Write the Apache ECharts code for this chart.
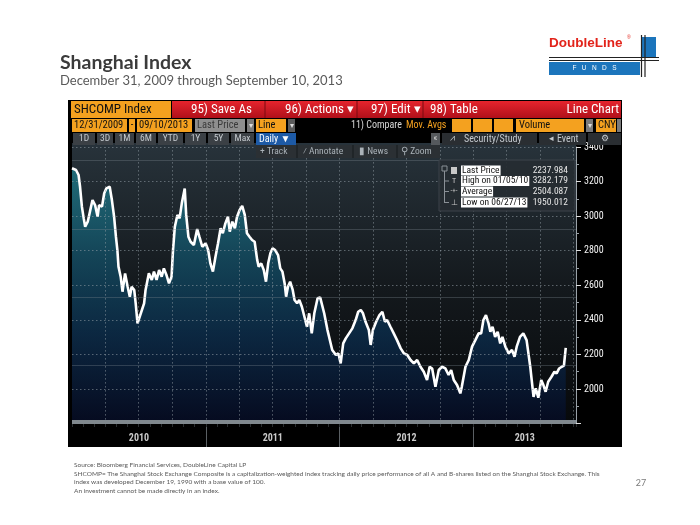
<!DOCTYPE html>
<html><head><meta charset="utf-8">
<script src="https://cdn.jsdelivr.net/npm/echarts@6/dist/echarts.min.js"></script>
<style>html,body{margin:0;padding:0;background:#fff}#c{width:700px;height:525px}</style>
</head><body><div id="c"></div>
<script>
// ---------- data ----------
const dates = [
'2009-12-31','2010-01-05','2010-01-11','2010-01-18','2010-01-22','2010-01-27','2010-02-01','2010-02-05','2010-02-12','2010-02-18',
'2010-02-25','2010-03-04','2010-03-11','2010-03-15','2010-03-23','2010-03-29','2010-04-04','2010-04-13','2010-04-19','2010-04-25',
'2010-04-30','2010-05-04','2010-05-07','2010-05-13','2010-05-18','2010-05-25','2010-06-01','2010-06-07','2010-06-12','2010-06-19',
'2010-06-23','2010-06-28','2010-07-02','2010-07-10','2010-07-16','2010-07-20','2010-07-29','2010-08-06','2010-08-12','2010-08-19',
'2010-08-26','2010-09-02','2010-09-08','2010-09-15','2010-09-22','2010-09-29','2010-10-03','2010-10-08','2010-10-15','2010-10-21',
'2010-10-27','2010-11-04','2010-11-08','2010-11-14','2010-11-20','2010-11-29','2010-12-08','2010-12-14','2010-12-22','2010-12-31',
'2011-01-07','2011-01-13','2011-01-20','2011-01-27','2011-02-03','2011-02-10','2011-02-16','2011-02-23','2011-03-02','2011-03-07',
'2011-03-14','2011-03-21','2011-03-27','2011-04-03','2011-04-10','2011-04-17','2011-04-23','2011-04-30','2011-05-07','2011-05-14',
'2011-05-21','2011-05-25','2011-06-01','2011-06-08','2011-06-14','2011-06-20','2011-06-26','2011-07-02','2011-07-09','2011-07-17',
'2011-07-23','2011-07-29','2011-08-04','2011-08-08','2011-08-13','2011-08-19','2011-08-26','2011-08-31','2011-09-07','2011-09-13',
'2011-09-20','2011-09-27','2011-10-04','2011-10-10','2011-10-17','2011-10-24','2011-11-02','2011-11-09','2011-11-20','2011-11-29',
'2011-12-12','2011-12-22','2011-12-29','2012-01-04','2012-01-11','2012-01-18','2012-01-27','2012-02-05','2012-02-14','2012-02-21',
'2012-02-28','2012-03-05','2012-03-12','2012-03-21','2012-03-26','2012-04-01','2012-04-10','2012-04-19','2012-04-27','2012-05-04',
'2012-05-10','2012-05-19','2012-05-28','2012-06-06','2012-06-16','2012-06-25','2012-07-04','2012-07-13','2012-07-22','2012-07-31',
'2012-08-09','2012-08-18','2012-08-27','2012-09-03','2012-09-10','2012-09-19','2012-09-28','2012-10-07','2012-10-16','2012-10-25',
'2012-11-01','2012-11-08','2012-11-17','2012-11-26','2012-11-30','2012-12-10','2012-12-19','2012-12-28','2013-01-06','2013-01-15',
'2013-01-22','2013-01-28','2013-02-04','2013-02-11','2013-02-16','2013-02-22','2013-03-01','2013-03-08','2013-03-15','2013-03-21',
'2013-03-29','2013-04-07','2013-04-16','2013-04-23','2013-04-29','2013-05-08','2013-05-17','2013-05-26','2013-05-31','2013-06-05',
'2013-06-09','2013-06-14','2013-06-20','2013-06-27','2013-07-05','2013-07-11','2013-07-17','2013-07-24','2013-08-02','2013-08-10',
'2013-08-16','2013-08-23','2013-08-30','2013-09-05','2013-09-10'];
const values = [
3277,3282.179,3267,3238,3170,3055,2987,2939,2968,3026,
3093,3064,2997,3064,3055,3132,3161,3170,3093,2997,
2881,2804,2708,2650,2563,2669,2592,2534,2592,2573,
2496,2380,2370,2457,2496,2573,2669,2631,2679,2631,
2688,2650,2698,2660,2611,2650,2804,2939,3007,2987,
3074,3160,3007,2881,2852,2833,2925,2881,2823,2843,
2804,2727,2679,2765,2843,2930,2901,2958,2997,2910,
2968,2930,2997,3036,3059,3007,2901,2881,2862,2852,
2746,2708,2727,2688,2621,2727,2785,2814,2804,2775,
2698,2679,2611,2534,2592,2621,2573,2515,2496,2515,
2476,2418,2360,2438,2322,2438,2525,2530,2438,2341,
2226,2197,2206,2148,2264,2293,2322,2351,2399,2447,
2457,2438,2389,2341,2255,2341,2389,2428,2447,2389,
2399,2360,2322,2283,2235,2206,2197,2168,2148,2168,
2129,2100,2052,2129,2119,2013,2110,2129,2119,2081,
2110,2052,2023,1975,2013,2129,2168,2245,2283,2322,
2322,2399,2428,2380,2331,2360,2302,2331,2264,2302,
2245,2206,2226,2187,2245,2302,2322,2283,2206,2129,
2052,1955,2004,1950.012,2052,2023,1984,2042,2071,2100,
2090,2119,2129,2135,2237.984];
const quarterStarts = ['2010-04-01','2010-07-01','2010-10-01','2011-01-01','2011-04-01','2011-07-01','2011-10-01',
'2012-01-01','2012-04-01','2012-07-01','2012-10-01','2013-01-01','2013-04-01','2013-07-01','2013-10-01'];
const yearLabels = ['2010','2011','2012','2013'];
const yearStarts = ['2009-12-31','2011-01-01','2012-01-01','2013-01-01'];
const axisStart = '2009-12-31', axisEnd = '2013-10-08';
const legendRows = [['Last Price','2237.984'],['High on 01/05/10','3282.179'],['Average','2504.087'],['Low on 06/27/13','1950.012']];
const footerLines = [
 'Source: Bloomberg Financial Services, DoubleLine Capital LP',
 'SHCOMP= The Shanghai Stock Exchange Composite is a capitalization-weighted index tracking daily price performance of all A and B-shares listed on the Shanghai Stock Exchange. This',
 'index was developed December 19, 1990 with a base value of 100.',
 'An investment cannot be made directly in an index.'];

// ---------- helpers ----------
const FN = "'Liberation Sans Narrow','Roboto Condensed','Arial Narrow',Roboto,sans-serif";
const FS = "Lato,'Open Sans',sans-serif";
const LG = (a,b,stops)=>new echarts.graphic.LinearGradient(0,0,0,1,stops);
function R(x,y,w,h,fill,z,extra){return Object.assign({type:'rect',silent:true,z:z===undefined?20:z,shape:{x:x,y:y,width:w,height:h},style:{fill:fill}},extra||{});}
function T(x,y,str,size,fill,o){o=o||{};const st={text:str,fill:fill,font:(o.w||'normal')+' '+size+'px '+(o.f||FN),
  align:o.a||'left',verticalAlign:o.va||'middle',textAlign:o.a||'left',textVerticalAlign:o.va||'middle'};
  if(o.bg){st.backgroundColor=o.bg;st.padding=o.pad||[0,1];}
  return {type:'text',silent:true,z:o.z||21,x:x,y:y,style:st};}
function L(x1,y1,x2,y2,c,w,z){return {type:'line',silent:true,z:z||21,shape:{x1:x1,y1:y1,x2:x2,y2:y2},style:{stroke:c,lineWidth:w||1}};}

const G = [];
// slide text
G.push(T(60,63,'Shanghai Index',19.5,'#3b3b3b',{f:FS,w:'bold'}));
G.push(T(60,80.5,'December 31, 2009 through September 10, 2013',13,'#595959',{f:FS}));
// logo
G.push(T(549,43,'DoubleLine',13.5,'#e2231a',{f:"'Liberation Sans',Arial,sans-serif",w:'bold'}));
G.push(T(627,38,'®',5,'#e2231a',{f:"'Liberation Sans',sans-serif"}));
G.push(R(642,37,14,20,'#1c75bc',1));
G.push(L(549,57.5,659,57.5,'#222',1.2,2));
G.push(L(549,60.5,659,60.5,'#222',1.2,2));
G.push(R(549,62,91,13,'#1c75bc',1));
G.push(T(594.5,68.5,'F   U   N   D   S',6.5,'#fff',{f:"'Liberation Sans',sans-serif",a:'center',z:3}));
G.push(L(641.5,35,641.5,77,'#222',1.2,2));
G.push(L(645,35,645,77,'#222',1.2,2));
// footer
footerLines.forEach((s,i)=>G.push(T(74,[464.5,473.5,482,490.5][i],s,6.5,'#595959',{f:FS})));
G.push(T(641,483,'27',9,'#7a7a7a',{f:FS,a:'center'}));

// Bloomberg panel
G.push(R(68,100,554,347,'#000',-5));
G.push(R(72,143,504,5,'#27323a',-4));
// row 1
G.push(R(71,101,100,17,'#f4a11f'));
G.push(T(74,109.5,'SHCOMP Index',13,'#111'));
G.push(R(172,101,449,17,LG(0,0,[{offset:0,color:'#e5242d'},{offset:1,color:'#b0101a'}])));
[265,357,423].forEach(x=>G.push(L(x,101,x,118,'#7a0a10',1)));
G.push(T(191,109.5,'95) Save As',13,'#fff'));
G.push(T(285,109.5,'96) Actions ▾',13,'#fff'));
G.push(T(371,109.5,'97) Edit ▾',13,'#fff'));
G.push(T(430,109.5,'98) Table',13,'#fff'));
G.push(T(619,109.5,'Line Chart',13,'#fff',{a:'right'}));
// row 2
const OR='#f4a11f';
G.push(R(72,119,55,13,OR)); G.push(T(74,125.5,'12/31/2009',10.5,'#111'));
G.push(R(129,119,6,13,OR)); G.push(T(132,125.5,'-',10.5,'#111',{a:'center'}));
G.push(R(137,119,55,13,OR)); G.push(T(139,125.5,'09/10/2013',10.5,'#111'));
G.push(R(195,119,50,13,'#8e8e8e')); G.push(T(197,125.5,'Last Price',10.5,'#3a3a3a'));
G.push(R(247,119,7,13,'#7a7a7a')); G.push(T(250.5,125.5,'▾',8,'#ddd',{a:'center'}));
G.push(R(256,119,30,13,OR)); G.push(T(258,125.5,'Line',10.5,'#111'));
G.push(R(288,119,7,13,'#5b5b5b')); G.push(T(291.5,125.5,'▾',8,'#ddd',{a:'center'}));
G.push(T(351,125.5,'11) Compare',10,'#d8d8d8'));
G.push(T(406,125.5,'Mov. Avgs',10,OR));
[452,473,494].forEach(x=>G.push(R(x,119,19,13,OR)));
G.push(R(516,119,68,13,OR)); G.push(T(519,125.5,'Volume',10.5,'#111'));
G.push(R(586,119,7,13,'#7a7a7a')); G.push(T(589.5,125.5,'▾',8,'#ddd',{a:'center'}));
G.push(R(596,119,20,13,OR)); G.push(T(598,125.5,'CNY',10.5,'#111'));
G.push(R(617,119,4,13,'#7a7a7a'));
// row 3
const BTN='#3b4045', BT='#c5cacf';
[['1D',73,96],['3D',97,114],['1M',115,135],['6M',136,157],['YTD',158,184],['1Y',185,207],['5Y',208,230],['Max',231,255]].forEach(b=>{
  G.push(R(b[1],133,b[2]-b[1]-1,12,BTN)); G.push(T((b[1]+b[2]-1)/2,139,b[0],9.5,BT,{a:'center'}));});
G.push(R(256,133,40,12,'#1d5aa6')); G.push(T(259,139,'Daily ▼',10,'#fff'));
G.push(R(431,133,9,12,'#55595d')); G.push(T(435.5,139,'«',9,'#ddd',{a:'center'}));
G.push(R(442,133,95,12,'#2a2e32')); G.push(T(450,139,'⩘',9,BT)); G.push(T(464,139,'Security/Study',10,BT));
G.push(R(539,133,47,12,'#2a2e32')); G.push(T(549,139,'◂',9,BT)); G.push(T(557,139,'Event',10,BT));
G.push(R(588,133,33,12,'#2a2e32')); G.push(T(604.5,139,'⚙',9,BT,{a:'center'}));
// row 4 (floating tools)
G.push(R(256,145,184,13,'#2b3034'));
[297,353,397].forEach(x=>G.push(L(x,145,x,158,'#161a1d',1)));
G.push(T(260,151.5,'+ Track',9.5,'#aab2b8'));
G.push(T(303,151.5,'⁄ Annotate',9.5,'#aab2b8'));
G.push(T(359,151.5,'▮ News',9.5,'#aab2b8'));
G.push(T(401,151.5,'⚲ Zoom',9.5,'#aab2b8'));
// legend box
G.push(R(439,160,136,51,'rgba(38,44,50,0.93)',20,{style:{fill:'rgba(38,44,50,0.93)',stroke:'#3c434a',lineWidth:1}}));
G.push(R(442,166,5,5,'#555',21,{style:{fill:'none',stroke:'#8a9096',lineWidth:1}}));
G.push(L(444.5,171,444.5,203,'#8a9096',1));
[181,191.5,202.5].forEach(y=>G.push(L(444.5,y,449,y,'#8a9096',1)));
G.push(R(451,167,6,7,'#c8c8c8',21));
G.push(T(454,181,'T',8,'#c8c8c8',{a:'center'}));
G.push(T(454,191.5,'-+-',7,'#c8c8c8',{a:'center'}));
G.push(T(454,202.5,'⊥',8,'#c8c8c8',{a:'center'}));
const ly=[170.5,181,191.5,202.5];
legendRows.forEach((r,i)=>{
  G.push(T(461,ly[i],r[0],9.5,'#111',{bg:'#fff',pad:[0,1]}));
  G.push(T(568,ly[i],r[1],9.5,'#e6e6e6',{a:'right'}));
});

const chart = echarts.init(document.getElementById('c'));
const gridL=72, gridW=504;
const option = {
  animation:false,
  backgroundColor:'#fff',
  graphic:{elements:G},
  grid:[
    {left:gridL,top:147,width:gridW,height:276.6,show:true,borderWidth:0,z:0,
     backgroundColor:LG(0,0,[{offset:0,color:'#27323a'},{offset:0.5,color:'#14191d'},{offset:1,color:'#07090b'}])},
    {left:gridL,top:160.7,width:gridW,height:204.3,show:false},
    {left:gridL,top:420,width:gridW,height:4,show:true,borderWidth:0,backgroundColor:'#80888e',z:10},
    {left:gridL,top:424,width:gridW,height:23,show:false}
  ],
  xAxis:[
    {gridIndex:0,type:'time',min:axisStart,max:axisEnd,show:false},
    {gridIndex:1,type:'value',show:false},
    {gridIndex:2,type:'time',min:axisStart,max:axisEnd,position:'top',splitNumber:45,z:11,
     axisLine:{show:false},axisLabel:{show:false},splitLine:{show:false},
     axisTick:{show:true,inside:true,length:3,lineStyle:{color:'#2a2e31'}}},
    {gridIndex:3,type:'time',min:axisStart,max:axisEnd,show:false}
  ],
  yAxis:[
    {gridIndex:0,type:'value',position:'right',min:1800,max:3400,interval:200,z:5,
     axisLine:{show:true,lineStyle:{color:'#9aa2a8'}},
     axisTick:{show:true,length:5,lineStyle:{color:'#e0e0e0'}},
     minorTick:{show:true,splitNumber:2,length:3,lineStyle:{color:'#9aa2a8'}},
     axisLabel:{color:'#f2f2f2',fontSize:10,fontFamily:FN,margin:8,formatter:v=>v<2000?'':String(v)},
     splitLine:{show:true,lineStyle:{color:'rgba(150,160,168,0.55)',type:[1.5,2.5],width:1}}},
    {gridIndex:1,type:'value',min:0,max:3,interval:1,z:4,
     axisLine:{show:false},axisTick:{show:false},axisLabel:{show:false},
     splitLine:{show:true,lineStyle:{color:'rgba(120,132,140,0.35)',width:1}}},
    {gridIndex:2,type:'value',show:false},
    {gridIndex:3,type:'value',show:false}
  ],
  series:[
    {type:'line',xAxisIndex:0,yAxisIndex:0,z:3,symbol:'none',
     data:dates.map((d,i)=>[d,values[i]]),
     lineStyle:{color:'#ffffff',width:2.6},
     areaStyle:{origin:'start',color:LG(0,0,[{offset:0,color:'#1f8796'},{offset:0.35,color:'#12546d'},{offset:0.65,color:'#0a3053'},{offset:1,color:'#050b28'}])},
     markLine:{silent:true,symbol:['none','none'],animation:false,
       lineStyle:{opacity:0},
       label:{show:true,position:'end',distance:5,formatter:()=>values[values.length-1].toFixed(3),
         color:'#000',backgroundColor:'#fff',padding:[1,2,0,2],fontSize:10,fontFamily:FN},
       data:[[{coord:[dates[dates.length-1],values[values.length-1]]},{coord:[axisEnd,values[values.length-1]]}]]}},
    {type:'line',xAxisIndex:0,yAxisIndex:0,z:5,data:[],
     markLine:{silent:true,symbol:['none','none'],animation:false,label:{show:false},
       lineStyle:{color:'rgba(150,160,168,0.55)',type:[1.5,2.5],width:1},
       data:quarterStarts.map(d=>({xAxis:d}))}},
    {type:'line',xAxisIndex:3,yAxisIndex:3,z:5,data:[],
     markArea:{silent:true,itemStyle:{color:'rgba(0,0,0,0)'},
       label:{show:true,position:'inside',color:'#c9c9c9',fontSize:10,fontWeight:'bold',fontFamily:FN,offset:[0,3]},
       data:yearLabels.map((y,i)=>[{name:y,xAxis:yearStarts[i]},{xAxis:i<yearStarts.length-1?yearStarts[i+1]:axisEnd}])},
     markLine:{silent:true,symbol:['none','none'],animation:false,label:{show:false},
       lineStyle:{color:'#5a5f63',type:'solid',width:1},
       data:yearStarts.slice(1).map(d=>({xAxis:d}))}}
  ]
};
chart.setOption(option);
</script></body></html>
